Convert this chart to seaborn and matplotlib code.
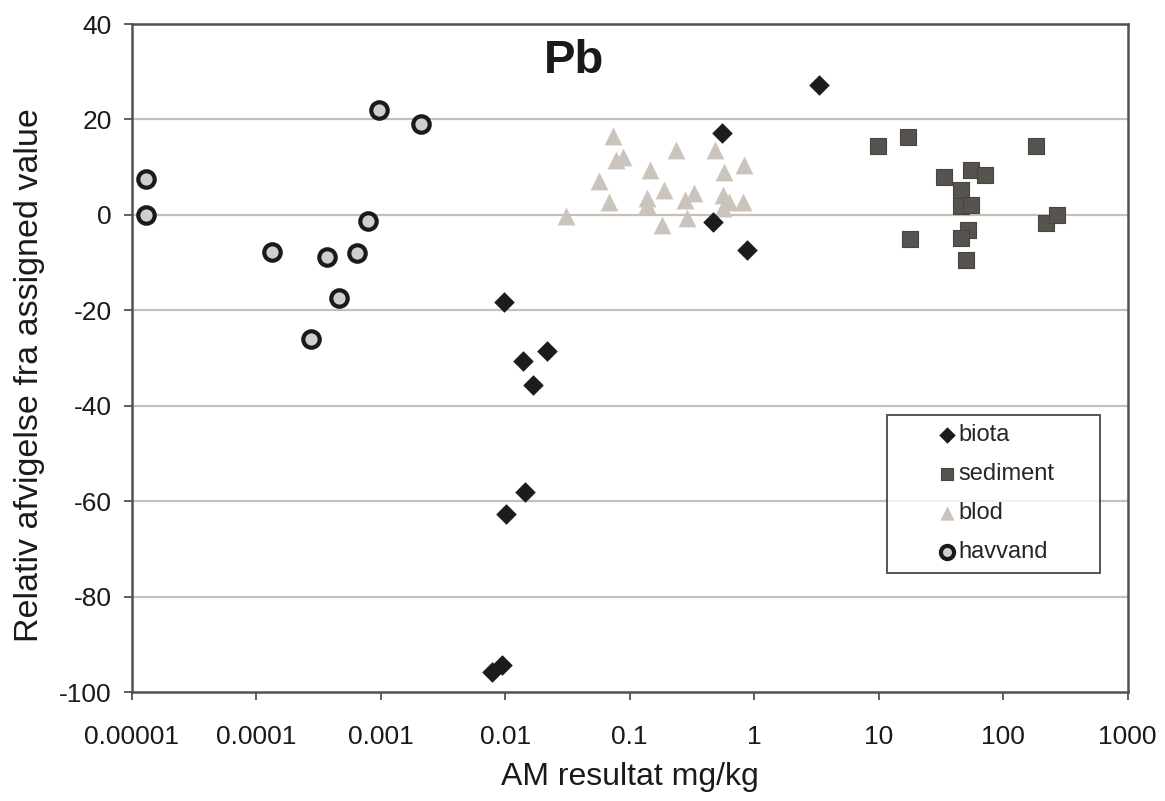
import numpy as np
import pandas as pd
import matplotlib
matplotlib.use("Agg")
import matplotlib.pyplot as plt
import seaborn as sns

sns.set_theme(style="white")
plt.rcParams["font.family"] = ["Liberation Sans", "DejaVu Sans"]
plt.rcParams["axes.unicode_minus"] = False

# biota
biota_x = [3.3, 0.55, 0.47, 0.87, 0.0097, 0.0217, 0.0138, 0.0167, 0.0145, 0.0102, 0.0094, 0.0078]
biota_y = [27.3, 17.2, -1.5, -7.3, -18.3, -28.5, -30.7, -35.6, -58.0, -62.7, -94.3, -95.7]

# sediment
sediment_x = [9.9, 17.3, 183, 33.6, 55, 72, 46, 46, 55, 221, 268, 17.8, 52, 45.6, 50]
sediment_y = [14.5, 16.4, 14.5, 8.0, 9.4, 8.4, 5.2, 1.8, 2.0, -1.7, 0.0, -5.1, -3.1, -4.9, -9.4]

# blod
blod_x = [0.074, 0.078, 0.088, 0.057, 0.068, 0.031, 0.146, 0.138, 0.138, 0.19, 0.183,
          0.234, 0.28, 0.33, 0.29, 0.48, 0.57, 0.83, 0.56, 0.63, 0.81, 0.56]
blod_y = [16.6, 11.5, 12.2, 7.0, 2.8, -0.3, 9.4, 3.5, 2.0, 5.2, -2.1,
          13.6, 3.1, 4.5, -0.7, 13.6, 9.0, 10.5, 4.2, 2.8, 2.8, 1.5]

# havvand
havvand_x = [1.3e-5, 1.3e-5, 1.35e-4, 3.7e-4, 6.5e-4, 7.9e-4, 4.6e-4, 2.75e-4, 9.7e-4, 2.1e-3]
havvand_y = [7.5, 0.0, -7.8, -8.8, -8.0, -1.3, -17.4, -26.0, 22.0, 19.0]

x_ticks = [0.00001, 0.0001, 0.001, 0.01, 0.1, 1, 10, 100, 1000]
x_tick_labels = ["0.00001", "0.0001", "0.001", "0.01", "0.1", "1", "10", "100", "1000"]
y_ticks = [-100, -80, -60, -40, -20, 0, 20, 40]

fig = plt.figure(figsize=(11.65, 8.01), dpi=100)
ax = fig.add_axes([0.113, 0.136, 0.855, 0.834])

for yv in y_ticks[1:-1]:
    ax.axhline(yv, color="#c9c0b5", lw=1.6, zorder=0)

sns.scatterplot(x=biota_x, y=biota_y, ax=ax, marker="D", s=110,
                color="#1c1c1c", edgecolor="#1c1c1c", linewidth=0, label="biota", zorder=3)
sns.scatterplot(x=sediment_x, y=sediment_y, ax=ax, marker="s", s=125,
                color="#57534e", edgecolor="#48443f", linewidth=0.8, label="sediment", zorder=3)
sns.scatterplot(x=blod_x, y=blod_y, ax=ax, marker="^", s=165,
                color="#cbc4bc", edgecolor="#cbc4bc", linewidth=0, label="blod", zorder=2)
sns.scatterplot(x=havvand_x, y=havvand_y, ax=ax, marker="o", s=140,
                color="#cfcfcf", edgecolor="#1a1a1a", linewidth=3.0, label="havvand", zorder=4)

ax.set_xscale("log")
ax.set_xlim(1e-5, 1000)
ax.set_ylim(-100, 40)
ax.set_xticks(x_ticks)
ax.set_xticklabels(x_tick_labels)
ax.minorticks_off()
ax.set_yticks(y_ticks)

ax.tick_params(axis="both", labelsize=19, colors="#55504b", labelcolor="#1a1a1a",
               direction="out", length=5.5, width=1.3, bottom=True, left=True)
ax.tick_params(axis="x", pad=18)
ax.tick_params(axis="y", pad=9)
for side in ["top", "right", "left", "bottom"]:
    ax.spines[side].set_visible(True)
    ax.spines[side].set_color("#55504b")
    ax.spines[side].set_linewidth(1.8)

ax.set_xlabel("AM resultat mg/kg", fontsize=23, color="#1a1a1a")
ax.set_ylabel("Relativ afvigelse fra assigned value", fontsize=24.5, color="#1a1a1a")
ax.xaxis.set_label_coords(0.5, -0.105)
ax.yaxis.set_label_coords(-0.087, 0.475)

ax.text(0.444, 0.944, "Pb", transform=ax.transAxes, fontsize=34, fontweight="bold",
        ha="center", va="center", color="#1a1a1a")

leg = ax.legend(loc="upper left", bbox_to_anchor=(0.758, 0.175, 0.214, 0.24),
                mode="expand", frameon=True, fontsize=17, fancybox=False,
                edgecolor="#2a2a2a", handletextpad=-1.67, markerscale=0.8,
                borderpad=0.4, labelspacing=0.72, handlelength=4.3, borderaxespad=0)
leg.get_frame().set_linewidth(1.4)

fig.savefig("out.png", dpi=100, facecolor="white")
